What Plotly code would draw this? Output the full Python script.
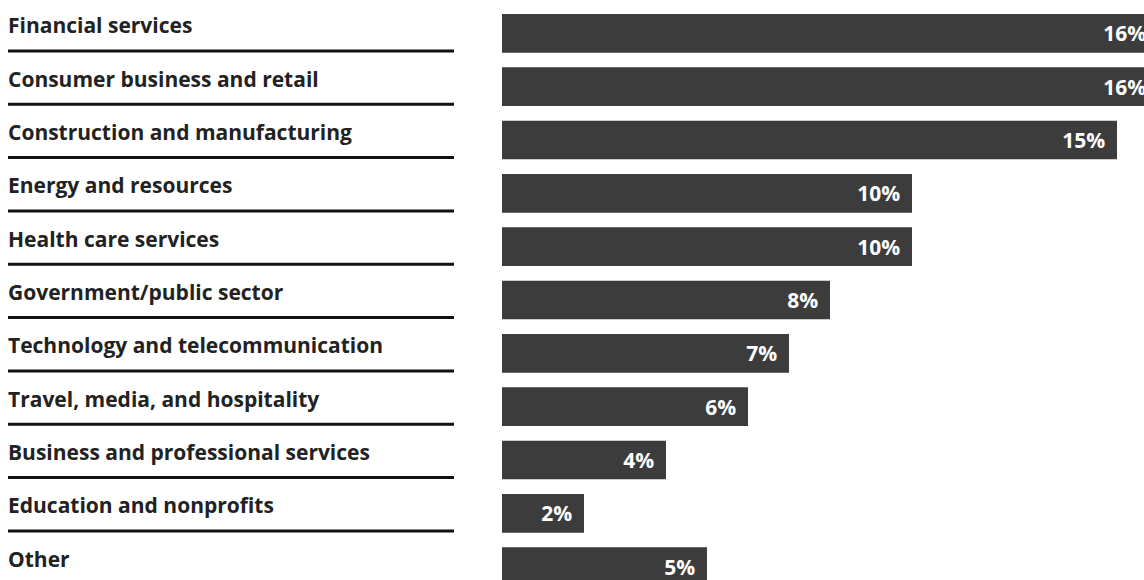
import plotly.graph_objects as go

categories = [
    "Financial services",
    "Consumer business and retail",
    "Construction and manufacturing",
    "Energy and resources",
    "Health care services",
    "Government/public sector",
    "Technology and telecommunication",
    "Travel, media, and hospitality",
    "Business and professional services",
    "Education and nonprofits",
    "Other",
]
values = [16, 16, 15, 10, 10, 8, 7, 6, 4, 2, 5]
value_labels = [f"{v}%" for v in values]

BAR_COLOR = "#3c3c3c"
TEXT_COLOR = "#222222"
FONT = "Open Sans"

W, H = 1144, 580
L = 502
LABEL_X = 8
LINE_X1 = 454
PX_PER_PCT = 41.0
ROW = 53.33
ROW0 = 33.35

fig = go.Figure()
fig.add_trace(go.Bar(
    y=categories,
    x=values,
    orientation="h",
    marker=dict(color=BAR_COLOR, line=dict(width=0)),
    text=[t + "\u00a0\u2009" for t in value_labels],
    textposition="inside",
    insidetextanchor="end",
    textangle=0,
    textfont=dict(family=FONT, size=21, color="white", weight=700),
    hoverinfo="skip",
))

n = len(categories)
for i, c in enumerate(categories):
    fig.add_annotation(
        xref="paper", yref="y",
        x=(LABEL_X - L) / (W - L), y=c,
        text=c, showarrow=False,
        xanchor="left", yanchor="middle",
        xshift=-2, yshift=8,
        font=dict(family=FONT, size=21, color=TEXT_COLOR, weight=700),
    )
    if i < n - 1:
        fig.add_shape(
            type="line", xref="paper", yref="y",
            x0=(LABEL_X - L) / (W - L), x1=(LINE_X1 - L) / (W - L),
            y0=i + 0.33, y1=i + 0.33,
            line=dict(color="#111111", width=3),
        )

fig.update_layout(
    width=W, height=H,
    margin=dict(l=L, r=0, t=0, b=0),
    paper_bgcolor="white", plot_bgcolor="white",
    bargap=0.275,
    showlegend=False,
    xaxis=dict(range=[0, (W - L) / PX_PER_PCT], visible=False, fixedrange=True),
    yaxis=dict(type="category",
               range=[(H - ROW0) / ROW, -ROW0 / ROW],
               visible=False, fixedrange=True),
    uniformtext=dict(minsize=8, mode="show"),
)

fig.write_html(
    "out.html",
    config={"displayModeBar": False},
    post_script="document.body.style.margin='0';document.documentElement.style.overflow='hidden';",
)
